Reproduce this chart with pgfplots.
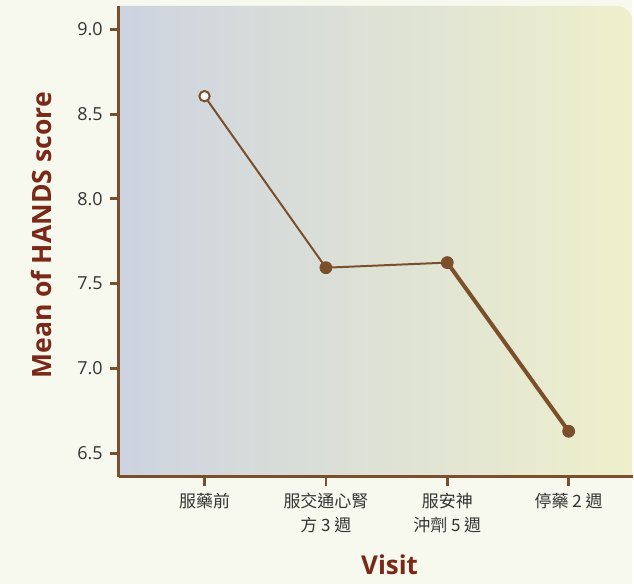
\documentclass[border=0pt]{standalone}
\usepackage{pgfplots}
\pgfplotsset{compat=1.18}
\usepackage{fontspec}
\setmainfont{Open Sans}
\newfontfamily\cjk{Noto Sans CJK TC}
\definecolor{pagebg}{HTML}{F8F9EE}
\definecolor{brn}{HTML}{7B4F2C}
\definecolor{lblred}{HTML}{7A2818}
\definecolor{gleft}{HTML}{CDD3E0}
\definecolor{gright}{HTML}{EEF0CB}
\definecolor{tickgray}{HTML}{333333}
\begin{document}
\begin{tikzpicture}
\fill[pagebg] (0,0) rectangle (317pt,292.5pt);
\shade[left color=gleft,right color=gright] (59.5pt,53.5pt) -- (59.5pt,289.5pt) [rounded corners=8pt] -- (317pt,289.5pt) [sharp corners] -- (317pt,53.5pt) -- cycle;
\begin{axis}[
  at={(59.5pt,53.5pt)}, anchor=south west,
  scale only axis, width=257.5pt, height=236pt,
  xmin=-0.707, xmax=3.526, ymin=6.36, ymax=9.138,
  axis x line=bottom, axis y line=left,
  axis line style={brn, line width=1.5pt, -},
  every tick/.style={brn, line width=1.4pt},
  tick align=outside, major tick length=4.5pt,
  xtick={0,1,2,3},
  xticklabels={{\cjk 服藥前},{\cjk 服交通心腎\\\cjk 方 3 週},{\cjk 服安神\\\cjk 沖劑 5 週},{\cjk 停藥 2 週}},
  xticklabel style={align=center, font=\fontsize{8.5}{12}\selectfont, text=tickgray, anchor=north, yshift=0pt},
  ytick={6.5,7.0,7.5,8.0,8.5,9.0},
  yticklabel style={font=\fontsize{9}{10}\selectfont, text=tickgray},
  /pgf/number format/assume math mode=true,
  /pgf/number format/fixed, /pgf/number format/fixed zerofill, /pgf/number format/precision=1,
  xlabel={\textbf{Visit}},
  ylabel={\textbf{Mean of HANDS score}},
  xlabel style={font=\fontsize{13}{14}\selectfont, text=lblred, yshift=-4pt, xshift=7pt},
  ylabel style={font=\fontsize{13.3}{14}\selectfont, text=lblred, yshift=6pt, xshift=3pt},
  clip=false,
]
\addplot[brn, line width=1pt] coordinates {(0,8.606) (1,7.594) (2,7.624)};
\addplot[brn, line width=2pt] coordinates {(2,7.624) (3,6.629)};
\addplot[only marks, mark=*, mark size=2.6pt, mark options={draw=brn, fill=white, line width=1pt}] coordinates {(0,8.606)};
\addplot[only marks, mark=*, mark size=3pt, mark options={draw=brn, fill=brn}] coordinates {(1,7.594) (2,7.624) (3,6.629)};
\end{axis}
\end{tikzpicture}
\end{document}
